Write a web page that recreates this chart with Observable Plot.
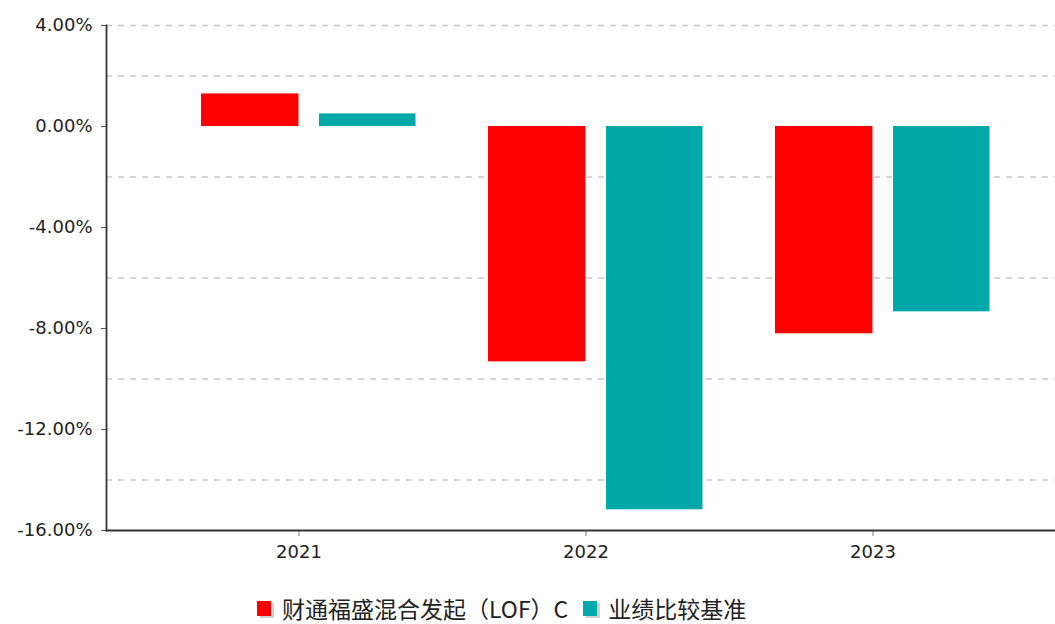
<!DOCTYPE html>
<html>
<head>
<meta charset="utf-8">
<script src="https://cdn.jsdelivr.net/npm/d3@7"></script>
<script src="https://cdn.jsdelivr.net/npm/@observablehq/plot@0.6"></script>
<style>
  html, body { margin: 0; padding: 0; background: #fff; }
  #wrap { position: relative; width: 1055px; height: 624px; overflow: hidden; }
  #chart svg text { font-family: "DejaVu Sans", sans-serif; }
  #legend { position: absolute; left: 257px; top: 595px; display: flex; align-items: center;
    font-family: "Noto Sans CJK SC", sans-serif; font-size: 23px; line-height: 26px; color: #222; white-space: nowrap; }
  .sw { width: 14px; height: 15px; margin-right: 11px; box-shadow: 3px 2px 0 #d0d0d0; }
  .item { display: flex; align-items: center; margin-right: 15px; }
</style>
</head>
<body>
<div id="wrap">
  <div id="chart"></div>
  <div id="legend"></div>
</div>
<script>
const years = ["2021", "2022", "2023"];
const fundName = "财通福盛混合发起（LOF）C";
const benchName = "业绩比较基准";
const fundValues = [1.29, -9.32, -8.21];
const benchValues = [0.50, -15.18, -7.34];
const yTicks = [4, 0, -4, -8, -12, -16];
const gridValues = [4, 2, -2, -6, -10, -14];
const fundColor = "#ff0000";
const benchColor = "#00a9a9";

const fundData = years.map((y, i) => ({year: y, value: fundValues[i]}));
const benchData = years.map((y, i) => ({year: y, value: benchValues[i]}));

const chart = Plot.plot({
  width: 1055,
  height: 575,
  marginLeft: 106,
  marginRight: 0,
  marginTop: 25,
  marginBottom: 45,
  style: {fontFamily: "DejaVu Sans, sans-serif", fontSize: "18px", color: "#222", background: "#fff"},
  x: {domain: years, range: [164, 1027.5], padding: 0},
  y: {domain: [-16, 4]},
  marks: [
    Plot.ruleY(gridValues, {stroke: "#c8c8c8", strokeWidth: 1.5, strokeDasharray: "6,6"}),
    Plot.barY(fundData, {x: "year", y: "value", fill: fundColor, insetLeft: 36, insetRight: 153.5}),
    Plot.barY(benchData, {x: "year", y: "value", fill: benchColor, insetLeft: 154, insetRight: 36.5}),
    Plot.axisY({ticks: yTicks, tickFormat: d => d.toFixed(2) + "%", tickSize: 5, tickPadding: 9,
      stroke: "#555", fill: "#222", fontSize: 18, label: null}),
    Plot.axisX({tickSize: 6, tickPadding: 9, dx: -10, stroke: "#777", fill: "#222", fontSize: 18, label: null}),
    Plot.frame({anchor: "left", stroke: "#333", strokeWidth: 1.8}),
    Plot.frame({anchor: "bottom", stroke: "#333", strokeWidth: 1.8})
  ]
});
document.getElementById("chart").appendChild(chart);

const legend = document.getElementById("legend");
[[fundName, fundColor], [benchName, benchColor]].forEach(([name, color]) => {
  const item = document.createElement("div");
  item.className = "item";
  const sw = document.createElement("div");
  sw.className = "sw";
  sw.style.background = color;
  const t = document.createElement("span");
  t.textContent = name;
  item.appendChild(sw);
  item.appendChild(t);
  legend.appendChild(item);
});
</script>
</body>
</html>
